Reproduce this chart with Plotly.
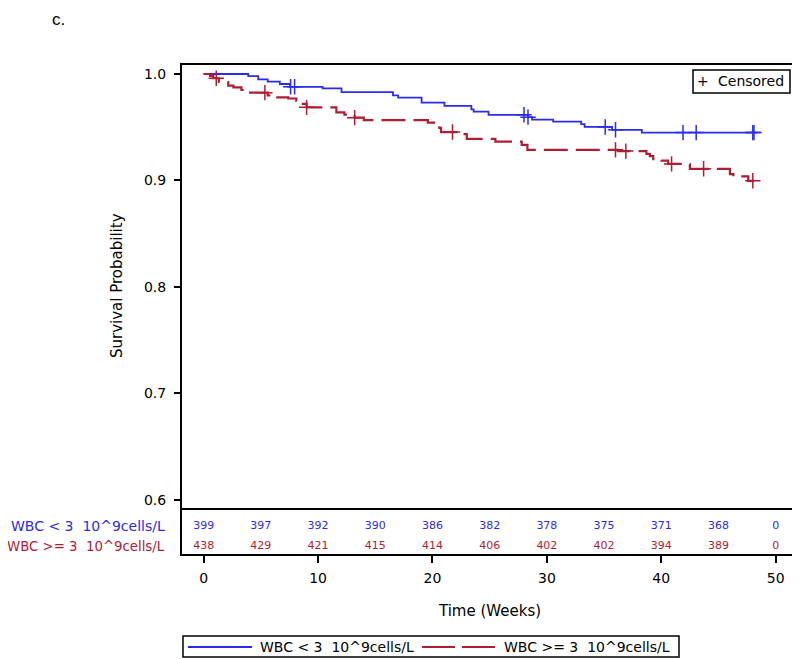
import plotly.graph_objects as go

# ---------------- data ----------------
blue_label = "WBC &lt; 3\u00a0 10^9cells/L"
red_label = "WBC &gt;= 3\u00a0 10^9cells/L"

blue_times = [0, 3.9, 4.77, 5.6, 6.66, 7.55, 10.4, 12.05, 16.55, 17.0, 19.05, 21.05, 23.4, 23.6,
              24.9, 28.35, 28.7, 30.55, 33.0, 33.3, 35.7, 38.3, 48.4]
blue_surv = [1.0, 0.998, 0.995, 0.9928, 0.9906, 0.988, 0.9866, 0.983, 0.980, 0.9778, 0.9732, 0.970,
             0.9668, 0.9646, 0.9617, 0.9595, 0.9572, 0.9553, 0.953, 0.9503, 0.9476, 0.945, 0.945]
blue_censor = [7.6, 7.95, 28.0, 28.35, 35.1, 36.0, 41.9, 43.05, 48.0, 48.1]

red_times = [0, 0.55, 0.84, 1.33, 2.15, 2.6, 3.3, 3.67, 5.6, 6.2, 7.4, 8.1, 8.4, 9.0, 11.6, 12.3,
             13.2, 14.0, 19.6, 20.6, 20.75, 22.4, 23.0, 25.5, 27.8, 28.3, 36.2, 38.7, 39.0, 39.3,
             40.0, 40.6, 42.5, 46.0, 46.3, 47.6, 48.1]
red_surv = [1.0, 0.9983, 0.996, 0.9925, 0.989, 0.9875, 0.985, 0.9825, 0.980, 0.978, 0.977, 0.9747,
            0.972, 0.9687, 0.964, 0.9618, 0.959, 0.9566, 0.9544, 0.9495, 0.9455, 0.9435, 0.939,
            0.9365, 0.9335, 0.9288, 0.9276, 0.925, 0.9228, 0.920, 0.9187, 0.9156, 0.911, 0.906,
            0.9038, 0.8997, 0.8997]
red_censor = [1.1, 5.35, 9.0, 13.2, 21.75, 36.0, 36.9, 40.9, 43.7, 48.0]

risk_times = [0, 5, 10, 15, 20, 25, 30, 35, 40, 45, 50]
blue_risk = [399, 397, 392, 390, 386, 382, 378, 375, 371, 368, 0]
red_risk = [438, 429, 421, 415, 414, 406, 402, 402, 394, 389, 0]

y_ticks = [0.6, 0.7, 0.8, 0.9, 1.0]
x_ticks = [0, 10, 20, 30, 40, 50]

BLUE = "#2b2bea"
RED = "#b01c32"
FONT = "DejaVu Sans"


def surv_at(times, surv, t):
    val = surv[0]
    for ti, si in zip(times, surv):
        if ti <= t:
            val = si
    return val


fig = go.Figure()

fig.add_trace(go.Scatter(x=blue_times, y=blue_surv, mode="lines", line_shape="hv",
                         line=dict(color=BLUE, width=1.8), xaxis="x", yaxis="y", showlegend=False))
fig.add_trace(go.Scatter(x=red_times, y=red_surv, mode="lines", line_shape="hv",
                         line=dict(color=RED, width=2.2, dash="24px,8px"), xaxis="x", yaxis="y",
                         showlegend=False))
fig.add_trace(go.Scatter(x=blue_censor, y=[surv_at(blue_times, blue_surv, t) for t in blue_censor],
                         mode="markers", marker=dict(symbol="cross-thin", size=11,
                                                     line=dict(color=BLUE, width=1.5)),
                         xaxis="x", yaxis="y", showlegend=False))
fig.add_trace(go.Scatter(x=red_censor, y=[surv_at(red_times, red_surv, t) for t in red_censor],
                         mode="markers", marker=dict(symbol="cross-thin", size=11,
                                                     line=dict(color=RED, width=1.5)),
                         xaxis="x", yaxis="y", showlegend=False))

# at-risk table
fig.add_trace(go.Scatter(x=risk_times, y=[0.62] * len(risk_times), mode="text",
                         text=[str(v) for v in blue_risk],
                         textfont=dict(family=FONT, size=11, color=BLUE),
                         xaxis="x", yaxis="y2", showlegend=False, cliponaxis=False))
fig.add_trace(go.Scatter(x=risk_times, y=[0.19] * len(risk_times), mode="text",
                         text=[str(v) for v in red_risk],
                         textfont=dict(family=FONT, size=11, color=RED),
                         xaxis="x", yaxis="y2", showlegend=False, cliponaxis=False))

# The page body has an 8px margin: work in window pixels and shift.
OFF = 8
W, H = 800 - OFF, 659 - OFF
L, R, T, B = 181, 798, 64, 555  # window pixels of the frame
pw, ph = R - L, B - T


def px(xp):
    return (xp - L) / pw


def py(yp):
    return (B - yp) / ph


split = py(509)

fig.update_layout(
    width=W, height=H,
    margin=dict(l=L - OFF, r=W - (R - OFF), t=T - OFF, b=H - (B - OFF), pad=0),
    paper_bgcolor="white", plot_bgcolor="white",
    font=dict(family=FONT, size=14, color="black"),
    showlegend=False,
    xaxis=dict(range=[-1.98, 51.95], anchor="y2", tickvals=x_ticks, ticks="outside",
               ticklen=7, tickwidth=2, tickcolor="black", showgrid=False, zeroline=False,
               showline=False, tickfont=dict(size=14, family=FONT), ticklabelstandoff=3),
    yaxis=dict(domain=[split, 1], range=[0.5915, 1.0094], anchor="x", tickvals=y_ticks,
               tickformat=".1f", ticks="outside", ticklen=6, tickwidth=2, tickcolor="black",
               showgrid=False, zeroline=False, showline=False,
               tickfont=dict(size=14, family=FONT), ticklabelstandoff=5),
    yaxis2=dict(domain=[0, split], range=[0, 1], anchor="x", showticklabels=False,
                ticks="", showgrid=False, zeroline=False, showline=False),
)

shapes = [
    dict(type="rect", xref="paper", yref="paper", x0=0, x1=1, y0=0, y1=1,
         line=dict(color="black", width=2)),
    dict(type="line", xref="paper", yref="paper", x0=0, x1=1, y0=split, y1=split,
         line=dict(color="black", width=2)),
    # bottom legend
    dict(type="rect", xref="paper", yref="paper", x0=px(183), x1=px(679), y0=py(657), y1=py(636),
         line=dict(color="black", width=1.5)),
    dict(type="line", xref="paper", yref="paper", x0=px(188), x1=px(252), y0=py(647), y1=py(647),
         line=dict(color=BLUE, width=1.8)),
    dict(type="line", xref="paper", yref="paper", x0=px(422), x1=px(495), y0=py(647), y1=py(647),
         line=dict(color=RED, width=2, dash="33px,7px")),
    # censored legend box
    dict(type="rect", xref="paper", yref="paper", x0=px(693), x1=px(790), y0=py(93), y1=py(70),
         line=dict(color="black", width=1.5)),
]
fig.update_layout(shapes=shapes)

ann = [
    dict(text="c.", xref="paper", yref="paper", x=px(50), y=py(8), xanchor="left",
         yanchor="top", showarrow=False, font=dict(family="Liberation Sans", size=17)),
    dict(text="Survival Probability", xref="paper", yref="paper", x=px(117), y=py(286),
         xanchor="center", yanchor="middle", textangle=-90, showarrow=False,
         font=dict(family=FONT, size=15)),
    dict(text="Time (Weeks)", xref="paper", yref="paper", x=0.5, y=py(611),
         xanchor="center", yanchor="middle", showarrow=False, font=dict(family=FONT, size=15)),
    dict(text=blue_label, xref="paper", yref="y2", x=px(167), y=0.62, xanchor="right",
         yanchor="middle", showarrow=False, font=dict(family=FONT, size=14, color=BLUE)),
    dict(text=red_label, xref="paper", yref="y2", x=px(167), y=0.19, xanchor="right",
         yanchor="middle", showarrow=False, font=dict(family=FONT, size=13.3, color=RED)),
    dict(text=blue_label, xref="paper", yref="paper", x=px(258), y=py(646.5), xanchor="left",
         yanchor="middle", showarrow=False, font=dict(family=FONT, size=14)),
    dict(text=red_label, xref="paper", yref="paper", x=px(502), y=py(646.5), xanchor="left",
         yanchor="middle", showarrow=False, font=dict(family=FONT, size=14)),
    dict(text="+", xref="paper", yref="paper", x=px(703), y=py(81), xanchor="center",
         yanchor="middle", showarrow=False, font=dict(family=FONT, size=14)),
    dict(text="Censored", xref="paper", yref="paper", x=px(716), y=py(81.5), xanchor="left",
         yanchor="middle", showarrow=False, font=dict(family=FONT, size=14)),
]
fig.update_layout(annotations=ann)

fig.write_html("out.html")
